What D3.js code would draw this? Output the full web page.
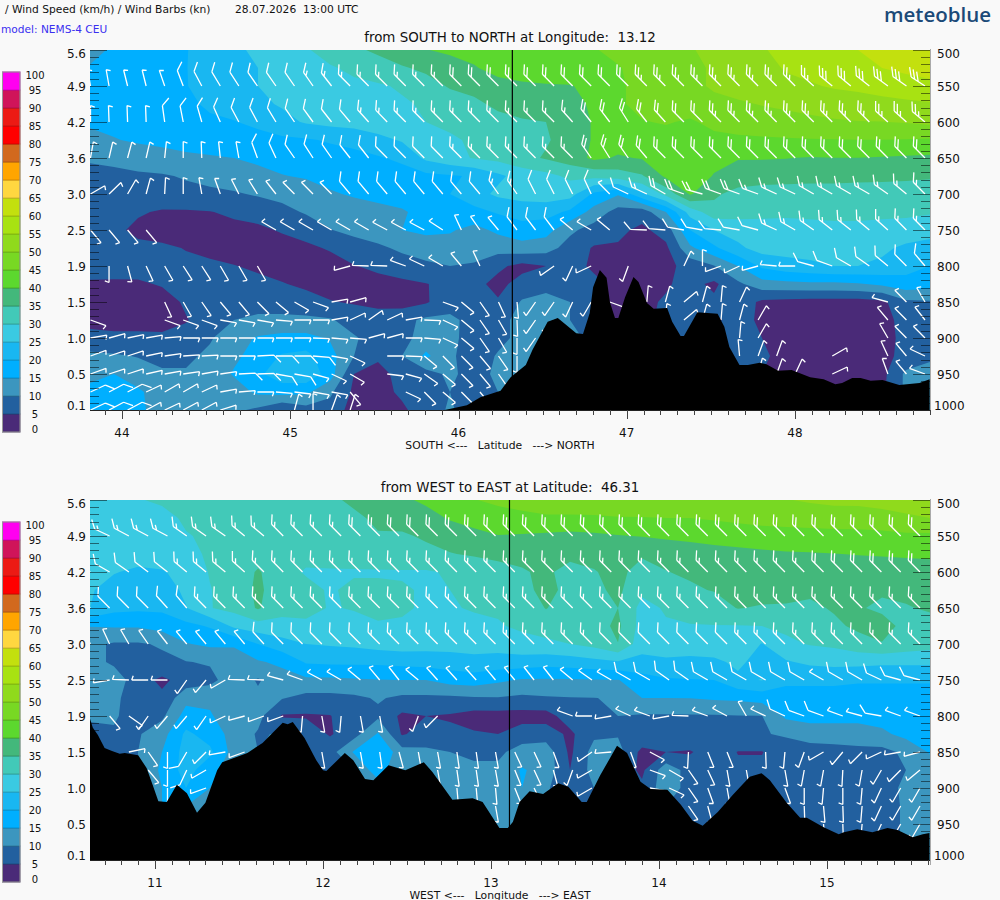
<!DOCTYPE html>
<html><head><meta charset="utf-8">
<script src="https://cdn.jsdelivr.net/npm/d3@7"></script>
<style>html,body{margin:0;padding:0;background:#f9f9f9}svg{display:block}text{font-family:"DejaVu Sans",sans-serif;white-space:pre}</style>
</head><body><svg id="c" width="1000" height="900"></svg>
<script>
const thresholds=[5,10,15,20,25,30,35,40,45,50,55,60,65,70,75,80,85,90,95];
const legendValues=[0,5,10,15,20,25,30,35,40,45,50,55,60,65,70,75,80,85,90,95,100];
const bandColors=["#4a2a78","#22609f","#3c96bf","#00afff","#19b7f1","#3acae2","#42c9b8","#43b87b","#5cd82e","#78d823","#90da1c","#a8e212","#c3e00e","#ffd740","#ffa500","#d2691e","#ff0000","#ec1a14","#d0145a","#ff00f0"];
const pressureLabels=[500,550,600,650,700,750,800,850,900,950,1000];
const heightLabels=["5.6","4.9","4.2","3.6","3.0","2.5","1.9","1.5","1.0","0.5","0.1"];
const barbLevels=[550,600,650,700,750,800,850,875,900,925,950,975,1000];
const latTicks=[44,45,46,47,48];
const lonTicks=[11,12,13,14,15];

const speedNS=[
[13,16,17,18.5,19.8,22,24,26,28,29.5,32,34,36,38,39.8,41,42,43,43.5,44,44.3,44.8,45.8,46.8,48,49.7,51,53,54.7,56,57,58.5,60,61,62,63],
[15.5,16,17,18.5,19.9,21.5,23.5,25,27,28.5,29.5,31,32.5,34.5,36,37.5,39.5,42,43,43.5,44,44.5,44.8,46,47.5,49,50.5,51.5,53,55.5,56.5,57.5,58.5,60,61,61.5],
[16,16.5,17,18.5,19.9,21,23,25,26.5,27.5,28.5,29,29.5,30.5,33,35.5,36.5,38,39,39.5,39.7,41.5,44.5,46,47.5,49,50.5,51.5,52.5,53.5,54.5,55.5,56,57,58,59],
[16,16,17,18,19,20.8,22,24,25.5,26.5,27,27.5,28.5,29.5,30.5,32.5,34,36,37,37.5,38,41,44.5,46,47,47,49,49.5,50.2,50.8,51.5,52.2,53,53.5,54,54.5],
[15.5,16,17,17.5,18.5,19.2,19.8,21,23.5,25.5,26.5,27,28,29,30,31.5,32.5,33.5,34.5,35,37,40.5,43,44.8,45.3,44.5,46,47.5,48,48.5,49,49.5,49.8,49.9,50.3,51],
[14,14.8,15.5,16,17,17.5,18,18.5,19,19.5,20.5,21.5,23.5,25.5,27,29,31,32,33,34.5,37,40.5,42,43,43.5,43.5,44,44,44.3,44.5,44.7,44.8,44.9,44.9,44.8,44.5],
[11,12,13,13.5,14,14.5,15,16,17,17.5,18,18.5,19.5,21,26,28.5,30.3,31.5,33.5,35.5,37.5,41,39.5,40.3,41.5,42,41,40.2,40.2,40.1,39.7,39.9,39.9,39.6,39.3,39],
[7.5,8,9,9.5,10.5,11.5,12.5,13.5,14.8,15.5,16.5,17,17.5,18,18.8,19.5,20.5,24,27,28.5,31,31.5,32.5,34.5,41,42,39.8,38.5,38,38,37.5,37.5,37,37,36.5,36],
[6.5,7,7.5,8,8.5,9,9.5,10.5,11.5,12.5,14.5,15.5,16.5,17,18,20,23,26,27,27.5,27,19,15.5,24,31.5,40.5,36,33,32,31.5,31.5,31.5,31.5,31,31,30.5],
[6,6,5.5,4.5,4.5,4.8,6,7,8.5,10.5,12,13,13.5,14.5,16.5,17.5,18.5,20.5,22,22,19,13,8,7,15,27,33,32,31.5,31,31,31,31,31,31,30.5],
[7,6,4,3,3,3,3.5,4,5.5,7,9.8,11.5,13,15,16,15.5,13.5,16,18,17,11,8,6,4,7,20,25,27,27.5,28,28.5,29,29,28.5,28,27],
[7,6.5,6,5.8,4.8,3.5,2.5,3,3,4,5.5,7.5,9,11,12.5,13,12,12,13,12,8,4.5,4.5,3.5,4,14,19,24,27,27,27,27,27,26,24,23],
[7.5,7,6.5,6,6,6,5.2,4,3,2.5,3,4.8,6,7.5,9,10,9.5,6,3.5,5,6.5,4.3,4.5,3,3.5,7,9.8,15,21,23,24,25,25,24,22,20],
[4.2,4.3,4.5,5.3,6,6.5,7,6.5,5.3,4,3,3,3.5,4,4.8,6.5,6.5,3.5,7,8.5,7,6,4,3.5,4.5,6.5,4,9,13,13.5,14,14,14.5,16,18,17],
[2.5,2.5,3,3.5,5.5,7,7.5,8,8,7,5.3,4.5,3.5,3,4.5,8,5.2,5.5,10.5,11.5,10,6,4,4,5.5,7,6,8,4,3.5,3,3,3,3.8,9,9.5],
[3,2.5,2.5,3,4.8,6.5,10,11,11,11,10.5,8,7.5,8.5,11,11,8.5,8,12,11,10,6,4,4,6,6,4.5,6,4.5,3,2.5,2.5,2.5,3,7,7.5],
[7,6.5,6.5,6,6,9.5,13,15.5,16.5,16.5,14.5,10.5,8,8.5,12,11.5,7.5,8.5,11.5,12,12,8,8,8,8,8,6,6,5,3,2.5,2.5,2.5,3,6.5,7],
[11,10.5,9.8,9,9,11,14,17,20.5,21.5,17,10,6,10,16,11,7,10.5,11.5,12,12,12,12,12,12,12,8,8,6,3,2.5,2.5,3,3.5,6.5,9.5],
[14,15,12,10.5,10.5,11.5,15.5,19,23,24,17.5,5,3,7,8,11,8,11,11.5,12,12,12,12,12,12,8,8,6,5,4,3.5,3.5,3.5,3.5,11,11],
[16,17,16,12,11,11,12.5,16,17,16,11,4,3,6,8,10,7,10,11,11,11,11,11,11,11,8,8,6,5,4,4,4,4,4,11,11],
[17,18,16,13,12,12,11,9,5,8,8,3,3,4,8,10.5,8,10,10,10,10,10,10,10,10,8,8,6,5,4,4,4,4,4,11,11]];

const speedWE=[
[27,28,29.8,30.5,31,31.5,32,32.5,33,33.5,34.5,35.5,37,39,41,43,44.8,46,46.5,47,47,47.5,47.5,48,48,48.5,48.5,49,49.3,49.8,50.5,51,51,51.5,51.5,52],
[26,27,27.5,29,30.5,31,31.5,32,32.5,33,33.5,34.5,35.5,36.5,38,40.5,42,43,44,44.5,44.5,44.5,44.8,44.8,45,45,45.5,46,46.5,47,47.5,47.8,48,48.5,49.5,50],
[25,26,27,28,29.8,30.5,31,31.5,32,32.5,33,33.5,34.8,34.5,35.5,37,38.5,39.8,39.5,39,38.5,39,39.7,40.2,41,41.5,42,42.5,43,43,43,43.2,43.2,43.5,44,44],
[26.5,27,27.5,28,29,30.5,31,33,32,31.5,32,32.5,33,34,34,34.8,35.5,36,36.5,36.5,36.5,36,36,35.5,36,37,38,38.5,39,39.5,39.7,39.9,40.2,40.5,40.7,41],
[26,25.3,24,24.5,27,30.3,32,35.5,32,29.5,29.5,29.5,29.5,29.5,29.5,30.5,32,33.5,34.5,36,33,34.8,36,33.5,34.9,35.5,36.5,37,37,37,37,37.5,37.5,37,37.5,37.5],
[25.5,23,22.5,22.5,26,29.8,32,36,32,31.5,29.5,31,31,30.5,29.5,30,31.5,33,34,36,34,34,36,31,33.5,34.5,35.2,36.5,37,36.5,36,36.5,36.5,35.7,36,36.5],
[25,21.5,21,21,24.8,29.8,31.5,35.5,31.5,31.5,29.7,30.3,30.5,30.5,29.5,29.5,30.5,30.8,32,35.2,32.5,32,35,28.5,30.5,32,33,35.2,34.5,34.5,34,35.5,35.5,34,34.7,35.5],
[15.2,15.5,15.5,17,18.5,20.5,26,28,28.5,29,28.5,28.5,29.8,29.5,28,28,28.5,29.5,31,32,32,33,36,28,29.5,29.7,29.8,29.8,30,31,32,34,36,37,33.5,33.5],
[11,9.5,9.5,10.5,14.7,16,15.5,20,23,25,25.5,26,27,27.5,27,27,27,27,28,29,30,31.5,34.9,27,28,28,28,28,24.8,29,30.3,31,33,34.7,33,32],
[12,9,9,9,9.8,10.5,13,14.5,16,20.5,21,21,21,21.5,22,22.5,23.5,23,23,22,22.5,23.5,24.5,23.5,24,23.5,24,26,23,24.5,26,26.5,26.5,26,26,26],
[13,13,7,4,7,8.5,13,9.5,13,14,14,14.5,14.8,15,15,17,17.5,16,14.5,14.5,14.5,14.7,14.8,18,19.5,19.8,20,24,25.2,21,21,21,20.5,20.5,20.5,20.5],
[11.5,11,7.5,6,13.5,14,12,11,10.3,8.5,8.5,9,10.5,9,9,9,9.5,9.7,9,9.5,9.8,9.9,10.5,15,15,15.1,15.7,16,17,18,18,18,18,18,18,18],
[11,11,6,9,17,15.5,12,11.5,4.5,4.5,4.8,8,9,4,5,4.5,3,3,3,3,7.5,9,10,9.5,9.5,9.5,9.6,9.8,9.9,16,17,17,17,17,18,18],
[8,9,9.5,13,21,18,13,9.5,10.5,8,4.5,8,15.5,4.5,7,6,5.5,5,7.5,7.5,4,9,9.5,9.5,9.5,9.5,9.5,9.5,9.7,10.5,12,12,12,14,16.5,17],
[8,8,10,15,22,21,13,10,10,10,8,15.5,20,12,11,10,9,9,12,13,4,12,12,3.5,5,4.5,8,4.8,4.8,8,8,8.5,9,8.5,11,15.5],
[8,8,10,16,22,17,12,10,10,10,8,10,18,10,11,11,11,11,15.5,13,5,12,8,4,13,8,8,6,6,8,8.5,8.5,9,9,10,12],
[8,8,10,15,20,15,12,10,10,10,8,10,12,10,11,12,11.5,11,15,11,5,10,8,6,13,8,8,8,6,8,8,8.5,9,9,10.5,12],
[8,8,10,15,15,12,12,10,10,10,8,10,12,10,11,12,12,11.5,11,11,5,10,8,6,10,8,8,8,6,8,8,8,8.5,8.5,10.5,12],
[8,8,10,12,12,12,12,10,10,10,8,10,12,10,11,12,12,11.5,11,11,8,10,8,6,10,8,8,8,6,8,8,8.5,8.5,8.5,10.5,12],
[8,8,10,12,12,12,12,10,10,10,8,10,12,10,11,12,12,11.5,11,11,8,10,8,6,10,8,8,8,6,8,8,8.5,8.5,8.5,10.5,12],
[8,8,10,12,12,12,12,10,10,10,8,10,12,10,11,12,12,11.5,11,11,8,10,8,6,10,8,8,8,6,8,8,8.5,8.5,8.5,10.5,12]];

const barbDirNS=[
[350,350,346,346,341,339,332,329,327,325,325,325,325,322,315,315,315,315,315,315,315,315,315,315,315,315,315,315,315,315,315,315,315,315,315,315,315,315,315,312,310,310,308,306,305,303],
[0,358,358,358,352,349,344,336,332,332,329,326,324,322,320,318,316,315,315,315,315,315,315,315,315,315,318,322,323,328,322,318,315,315,315,315,315,315,315,315,315,315,315,312,312,310],
[10,13,15,13,6,0,358,354,350,340,335,325,327,325,322,322,315,315,315,315,315,315,315,315,315,315,315,325,328,325,320,315,315,315,315,315,315,315,315,315,315,315,315,315,315,315],
[60,46,30,15,3,0,350,340,333,328,322,315,315,315,320,320,320,320,320,320,320,320,325,325,333,333,333,335,315,295,295,300,290,285,290,290,290,295,295,300,300,300,300,305,310,315],
[140,140,140,140,0,0,0,0,0,0,300,300,300,300,300,300,298,298,298,303,335,325,320,323,323,323,310,300,310,0,272,275,280,280,275,280,285,295,300,305,308,308,310,312,315,315],
[0,180,165,155,150,147,147,150,150,150,0,0,0,0,255,272,272,290,295,300,320,335,0,0,0,235,205,245,0,200,0,0,25,0,250,245,255,275,270,285,290,300,305,310,315,320],
[0,0,0,0,155,150,145,140,140,135,130,120,110,80,75,0,0,0,0,110,130,145,155,175,215,215,205,210,110,0,5,15,50,15,5,25,0,0,0,0,0,0,0,285,315,330],
[110,0,0,0,110,110,110,100,100,100,95,90,90,80,65,55,65,80,92,115,130,145,150,178,215,215,0,0,0,0,0,5,50,15,5,15,30,0,0,0,0,0,0,320,315,322],
[80,75,78,80,85,90,90,90,90,90,90,90,92,95,95,75,75,90,95,115,130,145,150,180,215,0,0,0,0,0,0,0,0,0,0,5,30,0,0,0,0,0,0,330,315,315],
[70,72,72,78,82,86,87,90,90,87,90,90,95,100,115,0,90,92,130,135,135,140,145,180,0,0,0,0,0,0,0,0,0,0,0,355,20,20,0,0,60,0,0,335,320,295],
[70,72,72,77,80,82,80,82,87,88,100,100,105,115,120,0,97,105,125,130,135,140,145,0,0,0,0,0,0,0,0,0,0,0,0,0,15,20,25,0,65,0,0,340,320,290],
[65,62,62,65,60,60,65,80,85,90,95,97,100,100,140,0,0,115,135,130,135,140],
[65,62,62,62,65,62,62,73,0,0,0,15,0,20,18]];
const barbKnNS=[
[5,5,5,5,5,10,10,10,10,10,10,10,15,15,15,15,15,15,15,15,20,20,20,20,20,20,20,20,20,20,25,25,25,25,25,25,25,25,25,25,30,30,30,30,30,30],
[5,5,5,5,10,10,10,10,10,10,10,10,10,10,10,15,15,15,15,15,15,15,15,15,15,15,15,20,20,20,20,20,20,20,25,25,25,25,25,25,25,25,25,25,25,25],
[5,5,5,5,5,5,5,5,5,10,10,10,10,10,10,10,10,10,10,10,15,15,15,15,15,15,15,20,20,20,20,20,20,20,20,20,20,20,20,20,20,20,20,20,20,20],
[5,5,5,5,5,5,5,5,5,5,5,5,5,5,10,10,10,10,10,10,10,10,15,15,10,10,10,10,5,10,15,20,20,20,20,20,15,15,15,15,15,15,15,15,15,15],
[5,5,5,5,0,0,0,0,0,0,5,5,5,5,5,5,5,5,5,5,5,5,5,10,10,10,5,5,5,0,10,10,10,10,10,10,10,15,15,15,15,15,15,15,15,15],
[0,5,5,5,5,5,5,5,5,5,0,0,0,0,5,5,5,5,5,5,5,5,0,0,0,5,5,5,0,5,0,0,5,5,5,5,5,5,5,10,10,10,10,10,10,10],
[0,0,0,0,5,5,5,5,5,5,5,5,5,5,5,0,0,0,0,5,5,5,5,5,5,5,5,5,5,0,5,5,5,5,5,5,0,0,0,0,0,0,0,5,5,5],
[5,0,0,0,5,5,5,5,5,5,5,5,5,5,5,5,5,5,5,5,5,5,5,5,5,5,0,0,0,0,0,5,5,5,5,5,5,0,0,0,0,0,0,5,5,5],
[5,5,5,5,5,5,5,5,5,5,5,5,5,5,5,5,5,5,5,5,5,5,5,5,5,0,0,0,0,0,0,0,0,0,0,5,5,0,0,0,0,0,0,5,5,5],
[5,5,5,5,5,5,5,5,5,10,10,10,10,5,5,0,5,5,5,5,5,5,5,5,0,0,0,0,0,0,0,0,0,0,0,5,5,5,0,0,5,0,0,5,5,5],
[5,5,5,5,5,5,5,5,10,10,10,10,5,5,5,0,5,5,5,5,5,5,5,0,0,0,0,0,0,0,0,0,0,0,0,0,5,5,5,0,5,0,0,5,5,5],
[10,10,10,5,5,5,5,5,5,5,5,5,5,5,5,0,0,5,5,5,5,5],
[10,10,10,5,5,5,5,5,0,0,0,5,5,5,5]];

const barbDirWE=[
[295,295,298,298,298,305,305,305,310,310,315,315,315,315,315,315,315,315,315,315,315,315,315,315,315,315,315,315,315,315,315,315,315,315,315,315,315,315,315,315,315,315,315,315],
[300,300,305,307,308,310,310,310,312,315,315,315,315,315,315,315,315,315,315,315,315,315,315,315,315,315,315,315,315,315,315,315,315,315,315,315,315,315,315,315,315,315,315,315],
[315,315,315,315,318,320,315,315,315,315,315,315,315,315,315,315,315,315,315,315,315,315,315,315,315,315,315,315,315,315,315,315,315,315,315,315,315,315,315,315,315,315,315,315],
[335,335,330,325,322,320,320,320,320,318,315,315,315,315,315,315,315,315,315,315,315,315,315,315,315,315,315,315,315,315,315,315,315,315,315,315,315,315,315,315,315,315,315,315],
[260,260,272,270,270,215,220,240,272,272,285,290,298,300,310,320,322,310,318,318,318,320,320,322,322,310,305,300,300,300,305,305,300,300,300,300,300,300,300,300,300,295,285,285],
[0,140,125,215,220,220,215,245,255,250,250,185,170,185,170,170,0,200,225,0,0,0,0,0,0,290,270,260,295,290,260,272,290,298,330,295,295,290,290,290,285,280,290,290],
[0,0,78,145,180,210,225,260,250,0,0,0,170,0,170,172,165,170,170,172,172,170,155,155,160,0,235,265,160,118,0,183,158,158,0,178,185,200,240,220,225,245,260,255],
[0,0,0,140,180,205,240,0,0,0,0,0,0,0,0,0,0,0,170,172,172,170,158,155,165,200,240,0,0,110,120,145,155,170,170,0,170,190,190,183,190,210,225,230],
[0,0,0,0,180,0,250,0,0,0,0,0,0,0,0,0,0,0,175,175,175,175,158,155,165,0,240,0,0,100,115,145,160,170,0,0,160,180,185,180,185,205,210,210],
[0,0,0,0,0,0,0,0,0,0,0,0,0,0,0,0,0,0,0,0,0,170,0,0,0,0,0,0,0,0,0,145,165,0,0,0,0,178,175,178,185,205,210,210],
[0,0,0,0,0,0,0,0,0,0,0,0,0,0,0,0,0,0,0,0,0,0,0,0,0,0,0,0,0,0,0,0,0,0,0,0,0,0,175,178,185,205,210,210],
[],[]];
const barbKnWE=[
[15,15,15,15,15,15,15,15,15,15,15,15,15,15,20,20,20,20,20,20,20,20,20,20,20,20,20,20,20,20,20,20,20,20,20,20,20,20,20,20,20,20,20,20],
[10,10,10,10,10,15,15,15,15,15,15,15,15,15,15,15,15,15,15,15,15,15,15,15,15,15,15,15,15,15,15,15,15,15,15,15,15,15,20,20,20,20,20,20],
[10,10,10,10,10,10,15,15,15,15,15,15,15,15,15,15,15,15,15,15,15,15,15,15,15,15,15,15,15,15,15,15,15,15,15,15,15,15,15,15,15,15,15,15],
[5,5,5,5,5,5,5,5,5,10,10,10,10,10,10,15,15,15,15,15,15,15,15,15,15,15,15,10,10,10,10,10,10,10,15,15,15,15,15,15,15,15,15,15],
[5,5,5,5,5,5,5,5,5,5,5,5,5,5,5,5,5,5,5,5,5,5,5,5,5,5,5,5,10,10,10,10,10,10,10,10,10,10,5,10,10,10,10,10],
[0,5,5,5,5,5,5,5,5,5,5,5,5,5,5,5,0,5,5,0,0,0,0,0,0,5,5,5,5,5,5,5,5,5,5,5,10,10,10,5,5,10,5,5],
[0,0,5,5,5,10,5,5,5,0,0,0,5,0,5,5,5,5,5,5,5,5,5,5,5,0,5,5,5,5,0,5,5,5,0,5,5,5,5,5,5,5,5,5],
[0,0,0,5,5,10,5,0,0,0,0,0,0,0,0,0,0,0,5,5,5,5,5,5,5,5,5,0,0,5,5,5,5,5,5,0,5,5,5,5,5,5,5,5],
[0,0,0,0,5,0,5,0,0,0,0,0,0,0,0,0,0,0,5,5,5,5,5,5,5,0,5,0,0,5,5,5,5,5,0,0,5,5,5,5,5,5,5,5],
[0,0,0,0,0,0,0,0,0,0,0,0,0,0,0,0,0,0,0,0,0,5,0,0,0,0,0,0,0,0,0,5,5,0,0,0,0,5,5,5,5,5,5,5],
[0,0,0,0,0,0,0,0,0,0,0,0,0,0,0,0,0,0,0,0,0,0,0,0,0,0,0,0,0,0,0,0,0,0,0,0,0,0,5,5,5,5,5,5],
[],[]];

const terrainLat=[45.91,46.05,46.13,46.25,46.31,46.40,46.44,46.53,46.59,46.70,46.74,46.78,46.80,46.84,46.88,46.90,46.93,46.95,46.99,47.04,47.07,47.12,47.16,47.24,47.27,47.32,47.34,47.42,47.54,47.58,47.61,47.67,47.72,47.79,47.83,47.90,47.98,48.09,48.17,48.24,48.28,48.34,48.39,48.45,48.52,48.62,48.74,48.80];
const terrainNS=[999,992,981,972,953,936,915,876,871,892,893,864,828,804,815,849,871,871,842,814,821,850,858,857,876,896,896,863,865,883,911,936,936,933,935,944,943,953,956,963,961,954,954,958,957,964,961,956];
const terrainLon=[10.61,10.63,10.66,10.70,10.74,10.79,10.82,10.90,10.95,10.99,11.02,11.07,11.13,11.19,11.25,11.30,11.37,11.40,11.55,11.64,11.76,11.79,11.82,11.89,11.96,12.00,12.02,12.13,12.18,12.25,12.30,12.39,12.49,12.60,12.65,12.77,12.89,12.95,13.05,13.10,13.13,13.17,13.23,13.31,13.40,13.46,13.54,13.57,13.65,13.75,13.81,13.89,13.95,14.05,14.13,14.20,14.26,14.35,14.44,14.54,14.61,14.66,14.76,14.84,14.88,14.98,15.07,15.10,15.18,15.27,15.36,15.42,15.51,15.57,15.61];
const terrainWE=[800,815,825,843,847,851,850,853,871,897,917,918,894,906,933,919,874,863,850,836,808,810,807,829,860,874,875,850,860,886,888,867,874,863,876,915,913,918,954,954,946,918,903,907,892,897,918,918,881,840,850,890,900,901,922,944,951,932,908,883,878,888,919,940,940,953,963,960,956,960,954,957,967,963,961];

const svg=d3.select("#c");
svg.append("rect").attr("width",1000).attr("height",900).attr("fill","#f9f9f9");
const txt=(x,y,s,size,o={})=>svg.append("text").attr("x",x).attr("y",y).attr("font-size",size).attr("dominant-baseline","central").attr("text-anchor",o.anchor||"start").attr("fill",o.fill||"#111").text(s);

txt(5,9,"/ Wind Speed (km/h) / Wind Barbs (kn)",10.7);
txt(235,9,"28.07.2026  13:00 UTC",10.7);
txt(1,29,"model: NEMS-4 CEU",10.6,{fill:"#3a2ff0"});
svg.append("text").attr("x",884).attr("y",22).attr("font-size",20.5).attr("font-weight",600).attr("fill","#1b4a78").style("font-family","'Open Sans'").text("meteoblue");

function barbPath(x0,y0,dir,kn){
  const a=dir*Math.PI/180, len=16.5, ux=Math.sin(a), uy=-Math.cos(a);
  const ex=x0+ux*len, ey=y0+uy*len;
  let p=`M${x0},${y0}L${ex},${ey}`;
  const fa=(b,l,d)=>{const sx=ex-ux*d, sy=ey-uy*d, t=a+b*Math.PI/180;
    p+=`M${sx},${sy}L${sx+Math.sin(t)*l},${sy-Math.cos(t)*l}`;};
  if(kn===5){fa(110,4.5,0);return p;}
  let rest=kn,d=0;
  while(rest>=10){fa(48,10,d);d+=4.2;rest-=10;}
  if(rest>=5)fa(48,5.5,d);
  return p;
}

function panel(o){
  const top=o.top, left=90, right=930, bottom=top+360;
  const x=d3.scaleLinear().domain(o.xDomain).range([o.x0,o.x1]);
  const y=d3.scaleLinear().domain([500,1000]).range([top,bottom]);
  const gx=d3.scaleLinear().domain([0,35]).range([left,right]);
  const gLevel=d3.scaleLinear().domain([0,20]).range([500,1000]);
  const bx=d3.scaleLinear().domain([0,o.barbCols-1]).range(o.barbX);
  const id="clip"+top;
  svg.append("clipPath").attr("id",id).append("rect").attr("x",left).attr("y",top).attr("width",right-left).attr("height",360);
  const g=svg.append("g").attr("clip-path",`url(#${id})`);
  g.append("rect").attr("x",left).attr("y",top).attr("width",right-left).attr("height",360).attr("fill",bandColors[0]);
  const contours=d3.contours().size([36,21]).thresholds(thresholds)(o.speed.flat());
  const path=d3.geoPath(d3.geoTransform({point(px,py){this.stream.point(gx(px-.5),y(gLevel(py-.5)));}}));
  g.selectAll("path.band").data(contours).join("path").attr("class","band").attr("d",path)
    .attr("fill",(d,i)=>bandColors[i+1]);
  const barbs=[];
  barbLevels.forEach((lv,r)=>(o.kn[r]||[]).forEach((kn,k)=>{if(kn>0)barbs.push({lv,k,kn,dir:o.dir[r][k]});}));
  g.append("g").attr("fill","none").attr("stroke","#fff").attr("stroke-width",1.3).attr("stroke-linecap","butt")
    .selectAll("path").data(barbs).join("path").attr("d",d=>barbPath(bx(d.k),y(d.lv),d.dir,d.kn));
  const area=d3.area().x(d=>x(d[0])).y0(bottom+1).y1(d=>y(d[1])+1);
  g.append("path").attr("d",area(d3.zip(o.terrainX,o.terrainP))).attr("fill","#000");
  g.append("line").attr("x1",x(o.cross)).attr("x2",x(o.cross)).attr("y1",top).attr("y2",bottom).attr("stroke","#000").attr("stroke-width",1.2);

  // pressure / height ticks
  const tickG=svg.append("g").attr("stroke","#000").attr("stroke-opacity",.5).attr("stroke-width",1);
  d3.range(500,1001,10).forEach(p=>{
    const L=p%50===0?17:9, yy=Math.round(y(p))+.5;
    tickG.append("line").attr("x1",left).attr("x2",left+L).attr("y1",yy).attr("y2",yy);
    tickG.append("line").attr("x1",right-L).attr("x2",right).attr("y1",yy).attr("y2",yy);
  });
  svg.append("line").attr("x1",right+.5).attr("x2",right+.5).attr("y1",top-1).attr("y2",bottom+5).attr("stroke","#aaa");
  svg.append("line").attr("x1",left).attr("x2",right).attr("y1",bottom+.5).attr("y2",bottom+.5).attr("stroke","#222");
  pressureLabels.forEach((p,i)=>{
    const yy=y(p)+1+(i===0?3:0)+(i===10?-5:0);
    txt(86,yy,heightLabels[i],12,{anchor:"end"});
    txt(i===10?934:937,yy,String(p),12);
  });
  // x ticks
  const tg=svg.append("g").attr("stroke","#444").attr("stroke-width",1);
  const d0=Math.ceil(o.xDomainFull[0]*10), d1=Math.floor(o.xDomainFull[1]*10);
  d3.range(d0,d1+1).forEach(t=>{const xx=Math.round(x(t/10))+.5;
    tg.append("line").attr("x1",xx).attr("x2",xx).attr("y1",bottom).attr("y2",bottom+(t%10===0?9:5));});
  o.ticks.forEach(t=>txt(x(t),bottom+23,String(t),12,{anchor:"middle"}));
  txt(500,bottom+35,o.xTitle,10.8,{anchor:"middle"});
  txt(510,top-13,o.title,13.4,{anchor:"middle"});

  // colour legend
  const lg=d3.scaleLinear().domain([0,100]).range([top+22+360,top+22]);
  const lgG=svg.append("g");
  bandColors.forEach((c,i)=>{
    const v=legendValues[i];
    lgG.append("rect").attr("x",2.5).attr("width",17.5).attr("y",lg(v+5)).attr("height",lg(v)-lg(v+5))
      .attr("fill",c).attr("stroke",d3.color(c).darker(.7)).attr("stroke-width",.8);
  });
  lgG.append("rect").attr("x",2.5).attr("width",17.5).attr("y",lg(100)).attr("height",360).attr("fill","none").attr("stroke","#999");
  legendValues.forEach(v=>txt(35,lg(v)+(v===100?3.5:v===0?-3:0),String(v),10,{anchor:"middle"}));
}

panel({top:50,xDomain:[44,48],x0:122,x1:795,xDomainFull:[43.81,48.80],speed:speedNS,dir:barbDirNS,kn:barbKnNS,barbCols:46,barbX:[90.5,925],
  terrainX:terrainLat,terrainP:terrainNS,cross:46.32,ticks:latTicks,xTitle:"SOUTH <---   Latitude   ---> NORTH",title:"from SOUTH to NORTH at Longitude:  13.12"});
panel({top:500,xDomain:[11,15],x0:155,x1:827,xDomainFull:[10.61,15.61],speed:speedWE,dir:barbDirWE,kn:barbKnWE,barbCols:44,barbX:[90.3,920],
  terrainX:terrainLon,terrainP:terrainWE,cross:13.11,ticks:lonTicks,xTitle:"WEST <---   Longitude   ---> EAST",title:"from WEST to EAST at Latitude:  46.31"});
</script></body></html>
